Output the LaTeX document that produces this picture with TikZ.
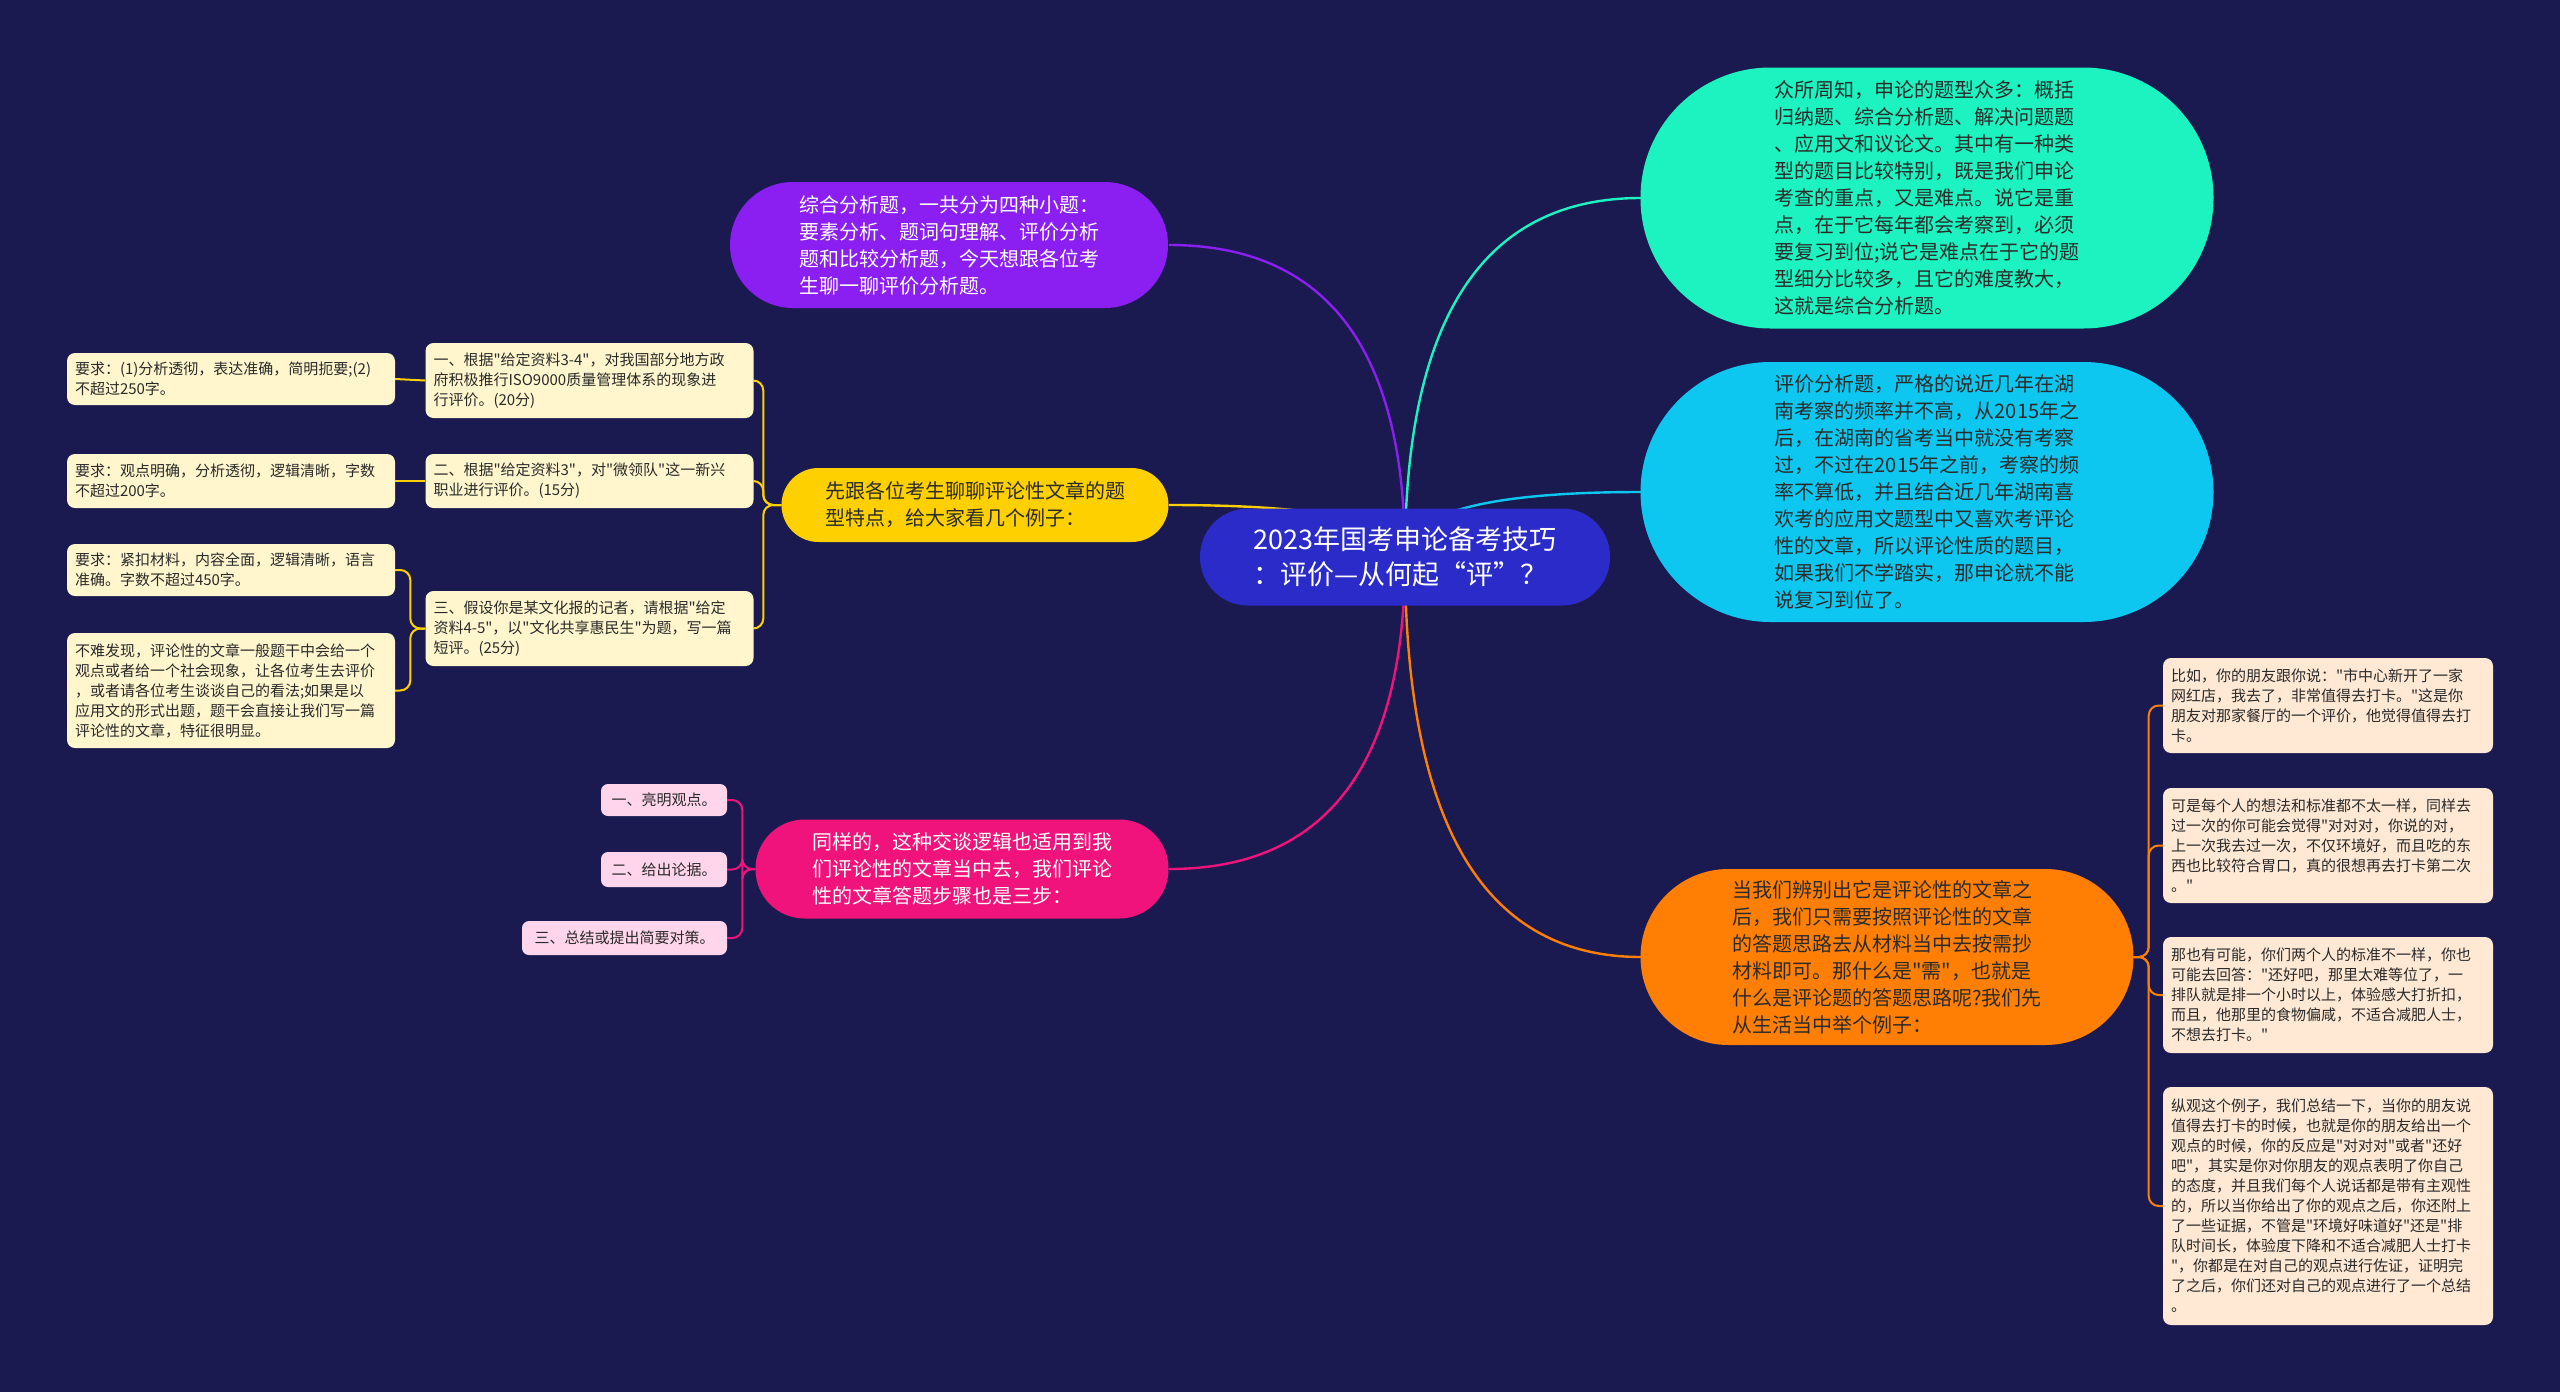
\documentclass[tikz,border=0pt]{standalone}
\usepackage{fontspec}
\setmainfont{Noto Sans CJK SC}[Ligatures=TeXOff]
\usetikzlibrary{calc}
\definecolor{bg}{HTML}{1A1A50}
\definecolor{cRoot}{HTML}{2B2BC9}
\definecolor{cPurple}{HTML}{8B1EF0}
\definecolor{cYellow}{HTML}{FFD000}
\definecolor{cPink}{HTML}{F0137B}
\definecolor{cTeal}{HTML}{1CF3C0}
\definecolor{cCyan}{HTML}{0DC7F0}
\definecolor{cOrange}{HTML}{FF7F05}
\definecolor{cCream}{HTML}{FFF6CE}
\definecolor{cLPink}{HTML}{FFD5EB}
\definecolor{cPeach}{HTML}{FFE9D4}
\definecolor{txt}{HTML}{2A2A2A}
\begin{document}
\begin{tikzpicture}[x=1pt,y=-1pt,
  big/.style={align=left, inner sep=0pt, font=\fontsize{20}{27}\selectfont},
  sbox/.style={rounded corners=8pt, align=left, text width=312pt, inner xsep=8pt, inner ysep=0pt,
    font=\fontsize{15}{20}\selectfont, text=txt},
  pbox/.style={rounded corners=7pt, align=center, inner ysep=0pt, fill=cLPink,
    font=\fontsize{15}{20}\selectfont, text=txt},
  mainconn/.style={line width=2.4pt},
  subconn/.style={line width=2pt, rounded corners=10pt}
]
\fill[bg] (0,0) rectangle (2560,1392);
\useasboundingbox (0,0) rectangle (2560,1392);

% anchor coordinates for the main connectors
\path
 coordinate (rootc) at (1405,557)
 coordinate (purpE) at (1169,245)
 coordinate (yelE) at (1169,505)
 coordinate (pinkE) at (1169,869)
 coordinate (tealW) at (1641,198)
 coordinate (cyanW) at (1641,492)
 coordinate (oraW) at (1641,957);

% main connectors (drawn first, hidden under the root)
\foreach \tgt/\col in {purpE/cPurple, yelE/cYellow, pinkE/cPink, tealW/cTeal, cyanW/cCyan, oraW/cOrange}{
  \draw[mainconn, \col] (rootc) .. controls ($(rootc)!0.667!(rootc |- \tgt)$) and ($(\tgt)!0.667!(rootc |- \tgt)$) .. (\tgt);
}

% level-1 nodes
\node[big, fill=cPurple, text=white, minimum width=438pt, minimum height=126pt, rounded corners=63pt] (purple) at (949,245)
 {综合分析题，一共分为四种小题：\\要素分析、题词句理解、评价分析\\题和比较分析题，今天想跟各位考\\生聊一聊评价分析题。};
\node[big, fill=cYellow, text=txt, minimum width=387pt, minimum height=74pt, rounded corners=37pt] (yellow) at (975,505)
 {先跟各位考生聊聊评论性文章的题\\型特点，给大家看几个例子：};
\node[big, fill=cPink, text=white, minimum width=413pt, minimum height=99pt, rounded corners=49pt] (pink) at (962,869)
 {同样的，这种交谈逻辑也适用到我\\们评论性的文章当中去，我们评论\\性的文章答题步骤也是三步：};
\node[big, fill=cTeal, text=txt, minimum width=573pt, minimum height=261pt, rounded corners=130pt] (teal) at (1927,198)
 {众所周知，申论的题型众多：概括\\归纳题、综合分析题、解决问题题\\、应用文和议论文。其中有一种类\\型的题目比较特别，既是我们申论\\考查的重点，又是难点。说它是重\\点，在于它每年都会考察到，必须\\要复习到位;说它是难点在于它的题\\型细分比较多，且它的难度教大，\\这就是综合分析题。};
\node[big, fill=cCyan, text=txt, minimum width=573pt, minimum height=260pt, rounded corners=130pt] (cyan) at (1927,492)
 {评价分析题，严格的说近几年在湖\\南考察的频率并不高，从2015年之\\后，在湖南的省考当中就没有考察\\过，不过在2015年之前，考察的频\\率不算低，并且结合近几年湖南喜\\欢考的应用文题型中又喜欢考评论\\性的文章，所以评论性质的题目，\\如果我们不学踏实，那申论就不能\\说复习到位了。};
\node[big, fill=cOrange, text=txt, minimum width=493pt, minimum height=176pt, rounded corners=88pt] (orange) at (1887,957)
 {当我们辨别出它是评论性的文章之\\后，我们只需要按照评论性的文章\\的答题思路去从材料当中去按需抄\\材料即可。那什么是"需"，也就是\\什么是评论题的答题思路呢?我们先\\从生活当中举个例子：};

% root
\node[align=left, inner sep=0pt, fill=cRoot, text=white, font=\fontsize{27}{35}\selectfont,
  minimum width=410pt, minimum height=97pt, rounded corners=48pt] (root) at (rootc)
 {2023年国考申论备考技巧\\：评价—从何起“评”？};

% yellow children
\node[sbox, fill=cCream, minimum height=75pt] (q1) at (589.5,380.5)
 {一、根据"给定资料3-4"，对我国部分地方政\\府积极推行ISO9000质量管理体系的现象进\\行评价。(20分)};
\node[sbox, fill=cCream, minimum height=54pt] (q2) at (589.5,481)
 {二、根据"给定资料3"，对"微领队"这一新兴\\职业进行评价。(15分)};
\node[sbox, fill=cCream, minimum height=75pt] (q3) at (589.5,628.5)
 {三、假设你是某文化报的记者，请根据"给定\\资料4-5"，以"文化共享惠民生"为题，写一篇\\短评。(25分)};
\node[sbox, fill=cCream, minimum height=52pt] (r1) at (231,379)
 {要求：(1)分析透彻，表达准确，简明扼要;(2)\\不超过250字。};
\node[sbox, fill=cCream, minimum height=54pt] (r2) at (231,481)
 {要求：观点明确，分析透彻，逻辑清晰，字数\\不超过200字。};
\node[sbox, fill=cCream, minimum height=52pt] (r3) at (231,570)
 {要求：紧扣材料，内容全面，逻辑清晰，语言\\准确。字数不超过450字。};
\node[sbox, fill=cCream, minimum height=115pt] (r4) at (231,690.5)
 {不难发现，评论性的文章一般题干中会给一个\\观点或者给一个社会现象，让各位考生去评价\\，或者请各位考生谈谈自己的看法;如果是以\\应用文的形式出题，题干会直接让我们写一篇\\评论性的文章，特征很明显。};

% pink children
\node[pbox, minimum width=126pt, minimum height=32pt] (p1) at (664,800) {一、亮明观点。};
\node[pbox, minimum width=126pt, minimum height=35pt] (p2) at (664,869.5) {二、给出论据。};
\node[pbox, minimum width=205pt, minimum height=34pt] (p3) at (624.5,938) {三、总结或提出简要对策。};

% orange children
\node[sbox, fill=cPeach, text width=314pt, minimum height=95pt] (o1) at (2328,705.5)
 {比如，你的朋友跟你说："市中心新开了一家\\网红店，我去了，非常值得去打卡。"这是你\\朋友对那家餐厅的一个评价，他觉得值得去打\\卡。};
\node[sbox, fill=cPeach, text width=314pt, minimum height=115pt] (o2) at (2328,845.5)
 {可是每个人的想法和标准都不太一样，同样去\\过一次的你可能会觉得"对对对，你说的对，\\上一次我去过一次，不仅环境好，而且吃的东\\西也比较符合胃口，真的很想再去打卡第二次\\。"};
\node[sbox, fill=cPeach, text width=314pt, minimum height=116pt] (o3) at (2328,995)
 {那也有可能，你们两个人的标准不一样，你也\\可能去回答："还好吧，那里太难等位了，一\\排队就是排一个小时以上，体验感大打折扣，\\而且，他那里的食物偏咸，不适合减肥人士，\\不想去打卡。"};
\node[sbox, fill=cPeach, text width=314pt, minimum height=238pt] (o4) at (2328,1206)
 {纵观这个例子，我们总结一下，当你的朋友说\\值得去打卡的时候，也就是你的朋友给出一个\\观点的时候，你的反应是"对对对"或者"还好\\吧"，其实是你对你朋友的观点表明了你自己\\的态度，并且我们每个人说话都是带有主观性\\的，所以当你给出了你的观点之后，你还附上\\了一些证据，不管是"环境好味道好"还是"排\\队时间长，体验度下降和不适合减肥人士打卡\\"，你都是在对自己的观点进行佐证，证明完\\了之后，你们还对自己的观点进行了一个总结\\。};

% secondary connectors
\foreach \c in {q1,q2,q3}{
  \draw[subconn, cYellow] (yellow.west) -- ++(-18,0) |- (\c.east);
}
\draw[subconn, cYellow] (q1.west) -- (r1.east);
\draw[subconn, cYellow] (q2.west) -- (r2.east);
\foreach \c in {r3,r4}{
  \draw[subconn, cYellow] (q3.west) -- ++(-15,0) |- (\c.east);
}
\foreach \c in {p1,p2,p3}{
  \draw[subconn, cPink] (pink.west) -- ++(-13,0) |- (\c.east);
}
\foreach \c in {o1,o2,o3,o4}{
  \draw[subconn, cOrange] (orange.east) -- ++(15,0) |- (\c.west);
}
\end{tikzpicture}
\end{document}
